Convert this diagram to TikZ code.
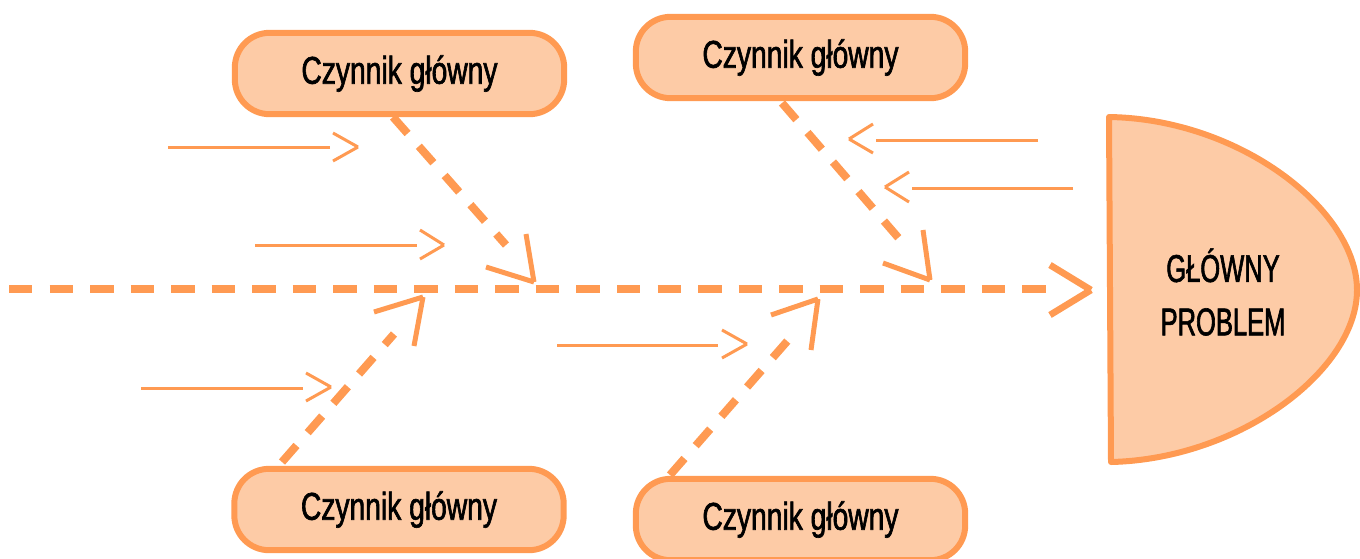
\documentclass[tikz,border=0pt]{standalone}
\usepackage{fontspec}
\newfontfamily\boxfont[FakeStretch=0.73,FakeBold=1.6]{Liberation Sans}
\newfontfamily\probfont[FakeStretch=0.66,FakeBold=1.6]{Liberation Sans}
\definecolor{ora}{HTML}{FF9A52}
\definecolor{pea}{HTML}{FDCBA6}
\begin{document}
\begin{tikzpicture}[x=0.75pt,y=-0.75pt,
  cbox/.style={draw=ora,fill=pea,line width=4.5pt,rounded corners=26pt,
    minimum width=247pt,minimum height=61pt,inner sep=0pt,
    font=\boxfont\fontsize{29}{33}\selectfont},
  spine/.style={draw=ora,line width=6pt,dash pattern=on 17.6pt off 12.8pt},
  bone/.style={draw=ora,line width=6pt,dash pattern=on 16.5pt off 12.75pt},
  bighead/.style={draw=ora,line width=5pt},
  bonehead/.style={draw=ora,line width=3.75pt},
  thin/.style={draw=ora,line width=2.25pt}]
\useasboundingbox (0,0) rectangle (1360,558);

% problem shape
\path[draw=ora,fill=pea,line width=4.5pt,line join=round]
  (1109,117) -- (1111,462) .. controls (1240,459) and (1357,370) .. (1357,290)
  .. controls (1357,210) and (1240,119) .. cycle;
\node[font=\probfont\fontsize{29}{40}\selectfont,align=center,inner sep=0pt] (prob) at (1223,292) {GŁÓWNY\\PROBLEM};

% main boxes
\node[cbox] (c1) at (399.5,73.5) {Czynnik główny};
\node[cbox] (c2) at (800.5,57.5) {Czynnik główny};
\node[cbox] (c3) at (399,509.5) {Czynnik główny};
\node[cbox] (c4) at (800.5,519.5) {Czynnik główny};

% spine
\coordinate (s0) at (9,289);
\coordinate (s1) at (1046.5,289);
\coordinate (sh) at (1091,290);
\coordinate (sa) at (1050,265);
\coordinate (sb) at (1050,315);
\draw[spine] (s0) -- (s1);
\draw[bighead] (sa) -- (sh);
\draw[bighead] (sb) -- (sh);

% bones
\coordinate (b1s) at (393,117);  \coordinate (b1e) at (506,245);
\coordinate (b1t) at (534,282);  \coordinate (b1a) at (486,267); \coordinate (b1b) at (526,234);
\coordinate (b2s) at (782,103);  \coordinate (b2e) at (902,242);
\coordinate (b2t) at (930,280);  \coordinate (b2a) at (883,263); \coordinate (b2b) at (923,230);
\coordinate (b3s) at (282,462);  \coordinate (b3e) at (394,334);
\coordinate (b3t) at (423,297);  \coordinate (b3a) at (374,312); \coordinate (b3b) at (414,346);
\coordinate (b4s) at (670,475);  \coordinate (b4e) at (790,338);
\coordinate (b4t) at (818,299);  \coordinate (b4a) at (771,315); \coordinate (b4b) at (811,350);
\foreach \i in {1,2,3,4}{
  \draw[bone] (b\i s) -- (b\i e);
  \draw[bonehead] (b\i a) -- (b\i t);
  \draw[bonehead] (b\i b) -- (b\i t);
}

% small arrows
\coordinate (a1s) at (168,147); \coordinate (a1e) at (330,147);
\coordinate (a1t) at (358,147); \coordinate (a1a) at (333,133); \coordinate (a1b) at (333,161);
\coordinate (a2s) at (255,245); \coordinate (a2e) at (417,245);
\coordinate (a2t) at (444,245); \coordinate (a2a) at (420,230); \coordinate (a2b) at (420,259);
\coordinate (a3s) at (141,388); \coordinate (a3e) at (303,388);
\coordinate (a3t) at (331,387); \coordinate (a3a) at (306,373); \coordinate (a3b) at (306,401);
\coordinate (a4s) at (557,345); \coordinate (a4e) at (718,345);
\coordinate (a4t) at (747,344); \coordinate (a4a) at (722,330); \coordinate (a4b) at (722,358);
\coordinate (a5s) at (1038,140); \coordinate (a5e) at (876,140);
\coordinate (a5t) at (849,139); \coordinate (a5a) at (873,124); \coordinate (a5b) at (873,153);
\coordinate (a6s) at (1073,188); \coordinate (a6e) at (912,188);
\coordinate (a6t) at (885,187); \coordinate (a6a) at (909,172); \coordinate (a6b) at (909,202);
\foreach \i in {1,...,6}{
  \draw[thin] (a\i s) -- (a\i e);
  \draw[thin] (a\i a) -- (a\i t);
  \draw[thin] (a\i b) -- (a\i t);
}
\end{tikzpicture}
\end{document}
